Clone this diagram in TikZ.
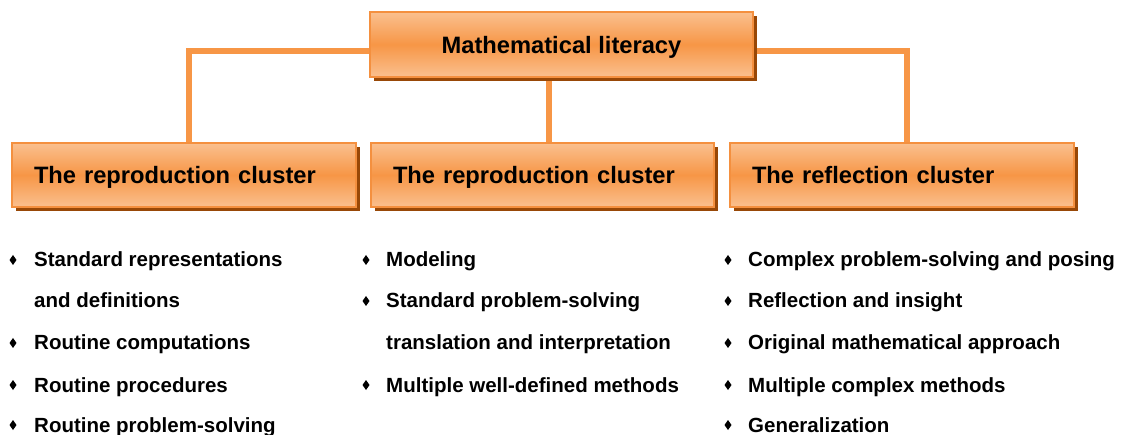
\documentclass[tikz,border=0pt]{standalone}
\usepackage{fontspec}
\setmainfont{Liberation Sans}
\usetikzlibrary{shadows,backgrounds}
\definecolor{orangemid}{HTML}{F79646}
\definecolor{orangelight}{HTML}{FAC08F}
\definecolor{orangeedge}{HTML}{F4903F}
\definecolor{shadowbrown}{HTML}{984807}
\tikzset{
  clusterbox/.style={draw=orangeedge, line width=1.5pt,
    top color=orangelight, bottom color=orangelight, middle color=orangemid,
    drop shadow={shadow xshift=4pt, shadow yshift=-4pt, fill=shadowbrown, opacity=1},
    minimum height=64pt, inner xsep=22pt, inner ysep=0pt, align=left,
    text height=20pt, text depth=2pt,
    font=\fontsize{23.7}{28}\selectfont\bfseries},
  conn/.style={draw=orangemid, line width=6pt},
  item/.style={anchor=base west, inner sep=0pt, font=\fontsize{20.5}{24}\selectfont\bfseries},
  bul/.style={fill=black}
}
\newcommand\mybullet[1]{\fill[bul] (#1) +(0,-5) -- +(3.5,0) -- +(0,5) -- +(-3.5,0) -- cycle;}
\begin{document}
\begin{tikzpicture}[x=1pt,y=-1pt]
\useasboundingbox (0,0) rectangle (1132,435);
% boxes
\node[clusterbox, minimum width=383pt, minimum height=65pt, align=center, inner xsep=0pt] (top) at (561.5,44.5) {Mathematical literacy};
\node[clusterbox, minimum width=344pt, text width=300pt] (c1) at (184,175) {The reproduction cluster};
\node[clusterbox, minimum width=343pt, text width=299pt] (c2) at (542.5,175) {The reproduction cluster};
\node[clusterbox, minimum width=344pt, text width=300pt] (c3) at (902,175) {The reflection cluster};
% connectors
\begin{scope}[on background layer]
\draw[conn] ([yshift=-6.5pt]top.west) -| ([xshift=5pt]c1.north);
\draw[conn] ([yshift=-6.5pt]top.east) -| ([xshift=5pt]c3.north);
\draw[conn] ([xshift=6.5pt]c2.north) -- ([xshift=6.5pt]c2.north |- top.south);
\end{scope}
% column 1
\node[item] (a1) at (34,267) {Standard representations};
\node[item] (a2) at (34,308) {and definitions};
\node[item] (a3) at (34,350) {Routine computations};
\node[item] (a4) at (34,392) {Routine procedures};
\node[item] (a5) at (34,432) {Routine problem-solving};
\mybullet{13,260}
\mybullet{13,343}
\mybullet{13,385}
\mybullet{13,425}
% column 2
\node[item] (b1) at (386,267) {Modeling};
\node[item] (b2) at (386,308) {Standard problem-solving};
\node[item] (b3) at (386,350) {translation and interpretation};
\node[item] (b4) at (386,392) {Multiple well-defined methods};
\mybullet{366,260}
\mybullet{366,301}
\mybullet{366,385}
% column 3
\node[item] (d1) at (748,267) {Complex problem-solving and posing};
\node[item] (d2) at (748,308) {Reflection and insight};
\node[item] (d3) at (748,350) {Original mathematical approach};
\node[item] (d4) at (748,392) {Multiple complex methods};
\node[item] (d5) at (748,432) {Generalization};
\mybullet{728,260}
\mybullet{728,301}
\mybullet{728,343}
\mybullet{728,385}
\mybullet{728,425}
\end{tikzpicture}
\end{document}
